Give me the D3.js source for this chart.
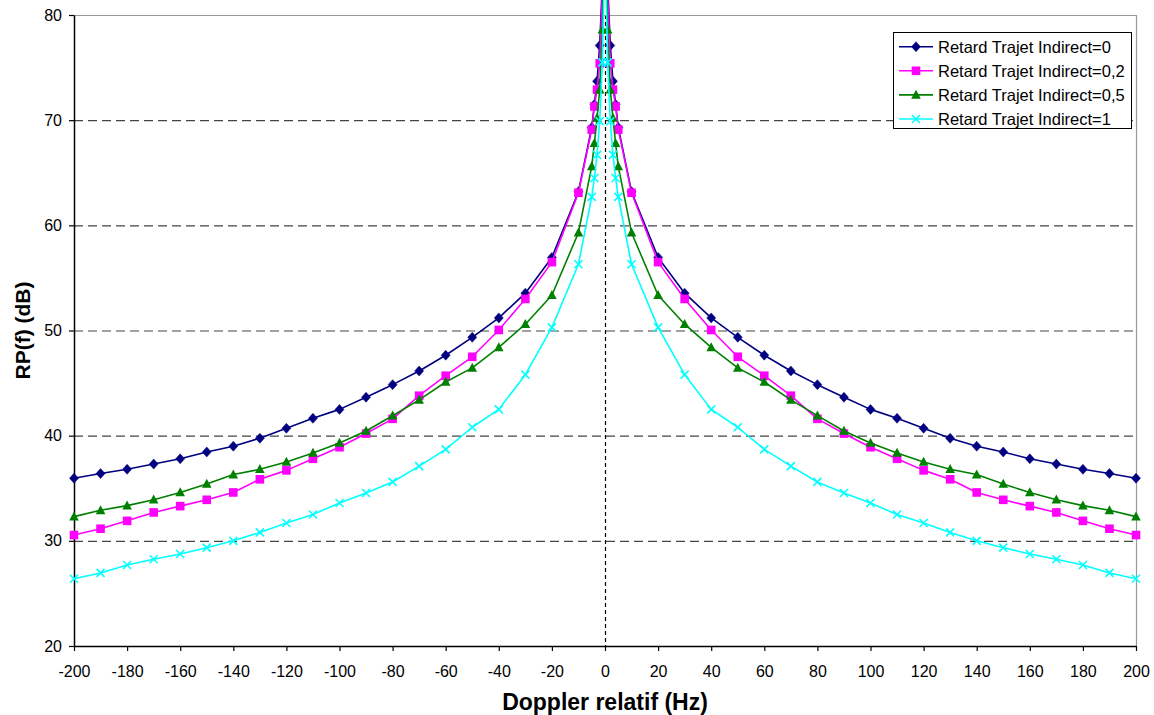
<!DOCTYPE html>
<html>
<head>
<meta charset="utf-8">
<script src="https://cdn.jsdelivr.net/npm/d3@7/dist/d3.min.js"></script>
<style>
  html, body { margin: 0; padding: 0; background: #fff; }
  svg { display: block; font-family: "Liberation Sans", Arial, sans-serif; }
</style>
</head>
<body>
<svg id="chart" width="1154" height="715"></svg>
<script>
// ---------------- DATA ----------------
const xValues = [-200,-190,-180,-170,-160,-150,-140,-130,-120,-110,-100,-90,-80,-70,-60,-50,-40,-30,-20,-10,-5,-4,-3,-2,-1,-0.5,
                 0.5,1,2,3,4,5,10,20,30,40,50,60,70,80,90,100,110,120,130,140,150,160,170,180,190,200];

const seriesNames = ["Retard Trajet Indirect=0", "Retard Trajet Indirect=0,2", "Retard Trajet Indirect=0,5", "Retard Trajet Indirect=1"];

const values0 = [35.95,36.4,36.8,37.3,37.8,38.45,39.0,39.75,40.7,41.65,42.5,43.65,44.85,46.15,47.65,49.35,51.2,53.55,56.95,63.2,69.3,71.5,73.7,77.1,83.0,89.0,
                 89.0,83.0,77.1,73.7,71.5,69.3,63.2,56.95,53.55,51.2,49.35,47.65,46.15,44.85,43.65,42.5,41.65,40.7,39.75,39.0,38.45,37.8,37.3,36.8,36.4,35.95];
const values02 = [30.55,31.15,31.9,32.7,33.3,33.9,34.6,35.85,36.7,37.8,38.9,40.2,41.6,43.8,45.7,47.5,50.05,53.0,56.5,63.1,69.1,71.3,72.9,75.4,82.0,88.0,
                  88.0,82.0,75.4,72.9,71.3,69.1,63.1,56.5,53.0,50.05,47.5,45.7,43.8,41.6,40.2,38.9,37.8,36.7,35.85,34.6,33.9,33.3,32.7,31.9,31.15,30.55];
const values05 = [32.3,32.9,33.35,33.9,34.6,35.4,36.3,36.8,37.5,38.35,39.3,40.45,41.9,43.4,45.1,46.45,48.4,50.6,53.35,59.3,65.6,67.8,70.2,72.9,78.6,84.6,
                  84.6,78.6,72.9,70.2,67.8,65.6,59.3,53.35,50.6,48.4,46.45,45.1,43.4,41.9,40.45,39.3,38.35,37.5,36.8,36.3,35.4,34.6,33.9,33.35,32.9,32.3];
const values1 = [26.4,26.95,27.7,28.25,28.75,29.35,30.0,30.8,31.7,32.5,33.6,34.55,35.6,37.1,38.7,40.8,42.5,45.8,50.3,56.3,62.7,64.5,66.7,69.9,75.5,81.5,
                 81.5,75.5,69.9,66.7,64.5,62.7,56.3,50.3,45.8,42.5,40.8,38.7,37.1,35.6,34.55,33.6,32.5,31.7,30.8,30.0,29.35,28.75,28.25,27.7,26.95,26.4];

const xTicks = [-200,-180,-160,-140,-120,-100,-80,-60,-40,-20,0,20,40,60,80,100,120,140,160,180,200];
const yTicks = [20,30,40,50,60,70,80];
const yGrid = [30,40,50,60,70];
const xTitle = "Doppler relatif (Hz)";
const yTitle = "RP(f) (dB)";

// ---------------- LAYOUT ----------------
const svg = d3.select("#chart");
const pLeft = 74, pRight = 1136, pTop = 15, pBottom = 646;

const x = d3.scaleLinear().domain([-200, 200]).range([pLeft, pRight]);
const y = d3.scaleLinear().domain([20, 80]).range([pBottom, pTop]);

// horizontal dashed gridlines
svg.append("g").selectAll("line").data(yGrid).join("line")
  .attr("x1", pLeft).attr("x2", pRight)
  .attr("y1", d => y(d) + 0.5).attr("y2", d => y(d) + 0.5)
  .attr("stroke", "#444").attr("stroke-width", 1.2)
  .attr("stroke-dasharray", "9,5");

// vertical dashed line at 0
svg.append("line")
  .attr("x1", x(0) + 0.5).attr("x2", x(0) + 0.5)
  .attr("y1", pTop).attr("y2", pBottom)
  .attr("stroke", "#000").attr("stroke-width", 1.2)
  .attr("stroke-dasharray", "4,3");

// plot area border (top/right gray)
svg.append("path")
  .attr("d", `M${pLeft},${pTop + 0.5}H${pRight + 0.5}V${pBottom}`)
  .attr("fill", "none").attr("stroke", "#999").attr("stroke-width", 1.2);

// axes
const fmt = d => String(d);
const xAxis = d3.axisBottom(x).tickValues(xTicks).tickFormat(fmt).tickSize(5).tickSizeOuter(0).tickPadding(15);
const gx = svg.append("g").attr("transform", `translate(0,${pBottom})`).call(xAxis);
const yAxis = d3.axisLeft(y).tickValues(yTicks).tickFormat(fmt).tickSize(5).tickSizeOuter(0).tickPadding(7);
const gy = svg.append("g").attr("transform", `translate(${pLeft},0)`).call(yAxis);
[gx, gy].forEach(g => {
  g.select(".domain").attr("stroke", "#000").attr("stroke-width", 1.5);
  g.selectAll(".tick line").attr("stroke", "#000").attr("stroke-width", 1.2);
  g.selectAll(".tick text").attr("fill", "#000").style("font-size", "16px")
    .style("font-family", '"Liberation Sans", Arial, sans-serif');
});

// axis titles
svg.append("text").attr("x", x(0)).attr("y", 710)
  .attr("text-anchor", "middle").style("font-size", "23px").style("font-weight", "bold")
  .text(xTitle);
svg.append("text").attr("transform", `translate(30,${(pTop + pBottom) / 2}) rotate(-90)`)
  .attr("text-anchor", "middle").style("font-size", "21px").style("font-weight", "bold")
  .text(yTitle);

// ---------------- SERIES ----------------
const colors = ["#000080", "#FF00FF", "#008000", "#00FFFF"];
const shapes = ["diamond", "square", "triangle", "cross"];
const allValues = [values0, values02, values05, values1];

function marker(g, shape, color, cx, cy) {
  if (shape === "diamond") {
    g.append("path").attr("d", `M${cx},${cy - 5}L${cx + 4.5},${cy}L${cx},${cy + 5}L${cx - 4.5},${cy}Z`)
      .attr("fill", color).attr("stroke", color).attr("stroke-width", 0.5);
  } else if (shape === "square") {
    g.append("rect").attr("x", cx - 4.3).attr("y", cy - 4.3).attr("width", 8.6).attr("height", 8.6)
      .attr("fill", color);
  } else if (shape === "triangle") {
    g.append("path").attr("d", `M${cx},${cy - 5.2}L${cx + 4.8},${cy + 3.8}L${cx - 4.8},${cy + 3.8}Z`)
      .attr("fill", color);
  } else {
    g.append("path").attr("d", `M${cx - 4},${cy - 4}L${cx + 4},${cy + 4}M${cx - 4},${cy + 4}L${cx + 4},${cy - 4}`)
      .attr("stroke", color).attr("stroke-width", 1.6).attr("fill", "none");
  }
}

const line = d3.line().x(d => x(d[0])).y(d => y(d[1]));

allValues.forEach((vals, i) => {
  const pts = xValues.map((xv, j) => [xv, vals[j]]);
  const g = svg.append("g");
  g.append("path").datum(pts).attr("d", line)
    .attr("fill", "none").attr("stroke", colors[i]).attr("stroke-width", 1.6)
    .attr("stroke-linejoin", "round");
  pts.forEach(p => {
    if (p[1] <= 80.5) marker(g, shapes[i], colors[i], x(p[0]), y(p[1]));
  });
});

// ---------------- LEGEND ----------------
const lg = svg.append("g");
lg.append("rect").attr("x", 893.5).attr("y", 32.5).attr("width", 238).attr("height", 96)
  .attr("fill", "#fff").attr("stroke", "#000").attr("stroke-width", 1);
seriesNames.forEach((name, i) => {
  const cy = 46.7 + i * 24.1;
  lg.append("line").attr("x1", 899).attr("x2", 933).attr("y1", cy).attr("y2", cy)
    .attr("stroke", colors[i]).attr("stroke-width", 1.6);
  marker(lg, shapes[i], colors[i], 916, cy);
  lg.append("text").attr("x", 938).attr("y", cy + 6)
    .style("font-size", "16.5px").attr("fill", "#000").text(name);
});
</script>
</body>
</html>
